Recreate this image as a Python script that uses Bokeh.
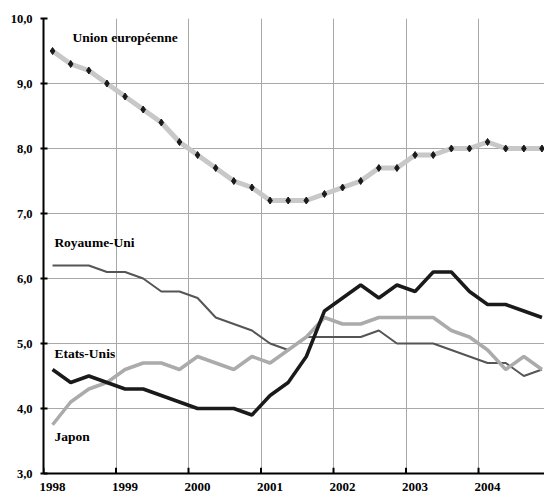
from bokeh.plotting import figure
from bokeh.models import FixedTicker, CustomJSTickFormatter, Label, Range1d
from bokeh.embed import file_html
from bokeh.resources import INLINE

years = [1998, 1999, 2000, 2001, 2002, 2003, 2004]
quarters = [1, 2, 3, 4]
y_ticks = [3, 4, 5, 6, 7, 8, 9, 10]

eu = [9.5, 9.3, 9.2, 9.0, 8.8, 8.6, 8.4, 8.1, 7.9, 7.7, 7.5, 7.4, 7.2, 7.2,
      7.2, 7.3, 7.4, 7.5, 7.7, 7.7, 7.9, 7.9, 8.0, 8.0, 8.1, 8.0, 8.0, 8.0]
uk = [6.2, 6.2, 6.2, 6.1, 6.1, 6.0, 5.8, 5.8, 5.7, 5.4, 5.3, 5.2, 5.0, 4.9,
      5.1, 5.1, 5.1, 5.1, 5.2, 5.0, 5.0, 5.0, 4.9, 4.8, 4.7, 4.7, 4.5, 4.6]
us = [4.6, 4.4, 4.5, 4.4, 4.3, 4.3, 4.2, 4.1, 4.0, 4.0, 4.0, 3.9, 4.2, 4.4,
      4.8, 5.5, 5.7, 5.9, 5.7, 5.9, 5.8, 6.1, 6.1, 5.8, 5.6, 5.6, 5.5, 5.4]
jp = [3.75, 4.1, 4.3, 4.4, 4.6, 4.7, 4.7, 4.6, 4.8, 4.7, 4.6, 4.8, 4.7, 4.9,
      5.1, 5.4, 5.3, 5.3, 5.4, 5.4, 5.4, 5.4, 5.2, 5.1, 4.9, 4.6, 4.8, 4.6]

x = [yr + (q - 0.5) / 4 for yr in years for q in quarters]

FONT = "Liberation Serif"

p = figure(width=544, height=493, output_backend="svg", toolbar_location=None,
           x_range=Range1d(1998, 2004.91), y_range=Range1d(3, 10),
           min_border_left=43, min_border_top=18, min_border_right=0,
           min_border_bottom=0)
p.outline_line_color = None
p.background_fill_color = "white"
p.border_fill_color = "white"

# grid
p.xgrid.ticker = FixedTicker(ticks=years)
p.ygrid.ticker = FixedTicker(ticks=y_ticks)
for g in (p.xgrid, p.ygrid):
    g.grid_line_color = "#a8a8a8"
    g.grid_line_width = 1

# x axis: labels centred on first quarter of each year
p.xaxis.ticker = FixedTicker(ticks=[yr + 0.125 for yr in years])
p.xaxis.formatter = CustomJSTickFormatter(code="return Math.floor(tick).toString();")
p.xaxis.major_tick_in = 0
p.xaxis.major_tick_out = 0
p.xaxis.minor_tick_line_color = None
p.xaxis.axis_line_width = 2
p.xaxis.axis_line_color = "black"
p.xaxis.major_label_standoff = 9
p.xaxis.major_label_text_font_size = "13px"

# y axis
p.yaxis.ticker = FixedTicker(ticks=y_ticks)
p.yaxis.formatter = CustomJSTickFormatter(code="return tick.toFixed(1).replace('.', ',');")
p.yaxis.major_tick_in = 4
p.yaxis.major_tick_out = 3
p.yaxis.major_tick_line_width = 2
p.yaxis.minor_tick_line_color = None
p.yaxis.axis_line_width = 2
p.yaxis.axis_line_color = "black"
p.yaxis.major_label_standoff = 8
p.yaxis.major_label_text_font_size = "12.5px"

for ax in (p.xaxis, p.yaxis):
    ax.major_label_text_font = FONT
    ax.major_label_text_font_style = "bold"
    ax.major_label_text_color = "black"

# x tick marks at year boundaries
p.segment(x0=years, y0=[3] * len(years), x1=years, y1=[3.09] * len(years),
          line_color="black", line_width=2)

# series
p.line(x, uk, line_color="#555555", line_width=2)
p.line(x, jp, line_color="#ababab", line_width=3.5)
p.line(x, us, line_color="#1a1a1a", line_width=3.5)
p.line(x, eu, line_color="#c8c8c8", line_width=5)
p.scatter(x, eu, marker="diamond", size=7, fill_color="#1a1a1a", line_color="#1a1a1a")

labels = [("Union européenne", 1998.40, 9.71),
          ("Royaume-Uni", 1998.15, 6.55),
          ("Etats-Unis", 1998.15, 4.85),
          ("Japon", 1998.15, 3.57)]
for txt, lx, ly in labels:
    p.add_layout(Label(x=lx, y=ly, text=txt, text_font=FONT, text_font_style="bold",
                       text_font_size="13.5px", text_baseline="middle", text_color="black"))

open("out.html", "w").write(file_html(p, INLINE))
